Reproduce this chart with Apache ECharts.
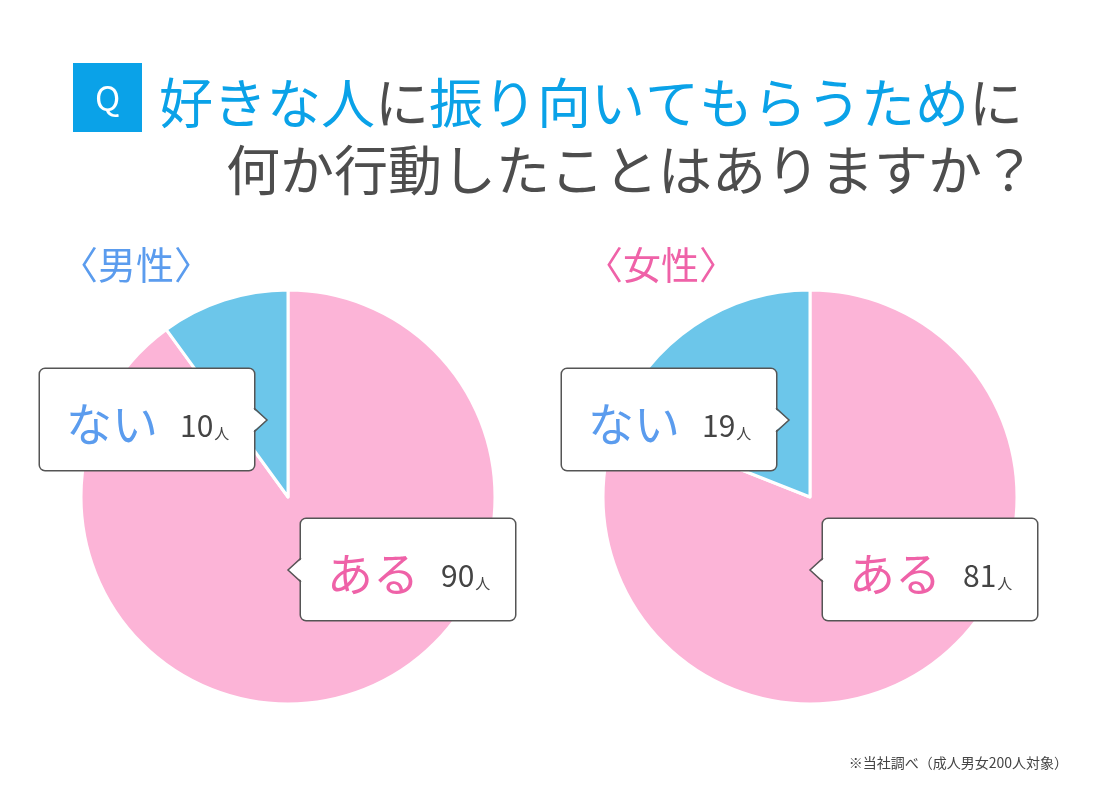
<!DOCTYPE html>
<html>
<head>
<meta charset="utf-8">
<script src="https://cdn.jsdelivr.net/npm/echarts@6/dist/echarts.min.js"></script>
<style>
html, body { margin: 0; padding: 0; background: #fff; }
#chart { width: 1100px; height: 791px; }
</style>
</head>
<body>
<div id="chart"></div>
<script>
// 回答データ（人数）
var categories = ['ある', 'ない'];
var maleValues = [90, 10];
var femaleValues = [81, 19];
var groupNames = ['男性', '女性'];
var unitLabel = '人';

var FONT = '"Noto Sans CJK JP", "Noto Sans", sans-serif';
var sliceColors = ['#fcb4d7', '#6cc6ea'];
var centers = [[288, 497], [810, 497]];
var radius = 207;

// 吹き出しの位置（円の中心からのずれ）
var boxOffset = [[13, 22], [-248, -128]];
var boxW = 214, boxH = 101;

function makeSeries(values, i) {
    return {
        type: 'pie',
        center: centers[i],
        radius: radius,
        startAngle: 90,
        clockwise: true,
        silent: true,
        itemStyle: { borderColor: '#fff', borderWidth: 3 },
        labelLine: { show: false },
        label: {
            show: true,
            position: 'outside',
            width: boxW - 26,
            padding: [22, 0, 23, 26],
            backgroundColor: '#fff',
            borderColor: '#555',
            borderWidth: 1.5,
            borderRadius: 5,
            formatter: function (p) {
                var key = p.dataIndex === 0 ? 'yes' : 'no';
                return '{' + key + '|' + p.name + '}{gap|}{num|' + p.value + '}{unit|' + unitLabel + '}';
            },
            rich: {
                yes: { fontFamily: FONT, fontSize: 46, color: '#ef62a8', lineHeight: 56, verticalAlign: 'bottom' },
                no: { fontFamily: FONT, fontSize: 46, color: '#5b9cee', lineHeight: 56, verticalAlign: 'bottom' },
                gap: { width: 22, lineHeight: 56 },
                num: { fontFamily: FONT, fontSize: 30, color: '#444', lineHeight: 56, verticalAlign: 'bottom', padding: [0, 0, 6, 0] },
                unit: { fontFamily: FONT, fontSize: 15, color: '#444', lineHeight: 56, verticalAlign: 'bottom', padding: [0, 0, 6, 1] }
            }
        },
        labelLayout: function (params) {
            var c = centers[params.seriesIndex];
            var off = boxOffset[params.dataIndex];
            return { x: c[0] + off[0], y: c[1] + off[1], align: 'left', verticalAlign: 'top' };
        },
        data: categories.map(function (name, k) {
            return { name: name, value: values[k], itemStyle: { color: sliceColors[k] } };
        })
    };
}

// 吹き出しの三角部分
function pointers() {
    var els = [];
    centers.forEach(function (c) {
        // 「ない」右向き
        var bx = c[0] + boxOffset[1][0] + boxW, by = c[1] - 77;
        els.push({ type: 'polygon', z: 100, shape: { points: [[bx - 2, by - 12], [bx + 13, by], [bx - 2, by + 12]] }, style: { fill: '#fff' } });
        els.push({ type: 'polyline', z: 101, shape: { points: [[bx, by - 12], [bx + 13, by], [bx, by + 12]] }, style: { stroke: '#555', lineWidth: 1.5, fill: null } });
        // 「ある」左向き
        var ax = c[0] + boxOffset[0][0], ay = c[1] + 73;
        els.push({ type: 'polygon', z: 100, shape: { points: [[ax + 2, ay - 12], [ax - 13, ay], [ax + 2, ay + 12]] }, style: { fill: '#fff' } });
        els.push({ type: 'polyline', z: 101, shape: { points: [[ax, ay - 12], [ax - 13, ay], [ax, ay + 12]] }, style: { stroke: '#555', lineWidth: 1.5, fill: null } });
    });
    return els;
}

var chart = echarts.init(document.getElementById('chart'));

var option = {
    backgroundColor: '#fff',
    animation: false,
    title: [
        {
            text: '{b|好きな人}{g|に}{b|振り向いてもらうため}{g|に}',
            left: 154, top: 68,
            textStyle: {
                fontWeight: 'normal',
                rich: {
                    b: { fontFamily: FONT, fontSize: 54, fontWeight: 'normal', color: '#0aa2e8', lineHeight: 60 },
                    g: { fontFamily: FONT, fontSize: 54, fontWeight: 'normal', color: '#4d4d4d', lineHeight: 60 }
                }
            }
        },
        {
            text: '何か行動したことはありますか？',
            left: 221, top: 135,
            textStyle: { fontFamily: FONT, fontSize: 54, color: '#4d4d4d', fontWeight: 'normal', lineHeight: 60 }
        },
        {
            text: '〈' + groupNames[0] + '〉',
            left: 55, top: 238,
            textStyle: { fontFamily: FONT, fontSize: 38, color: '#5b9cee', fontWeight: 'normal', lineHeight: 44 }
        },
        {
            text: '〈' + groupNames[1] + '〉',
            left: 580, top: 238,
            textStyle: { fontFamily: FONT, fontSize: 38, color: '#ef62a8', fontWeight: 'normal', lineHeight: 44 }
        },
        {
            text: '※当社調べ（成人男女200人対象）',
            right: 27, top: 751,
            textStyle: { fontFamily: FONT, fontSize: 14, color: '#444', fontWeight: 'normal' }
        }
    ],
    graphic: [
        { type: 'rect', left: 73, top: 63, shape: { width: 69, height: 69 }, style: { fill: '#0aa2e8' } },
        { type: 'text', x: 107.5, y: 98, style: { text: 'Q', fill: '#fff', font: '34px ' + FONT, textAlign: 'center', textVerticalAlign: 'middle' } }
    ].concat(pointers()),
    series: [makeSeries(maleValues, 0), makeSeries(femaleValues, 1)]
};

chart.setOption(option);
</script>
</body>
</html>
